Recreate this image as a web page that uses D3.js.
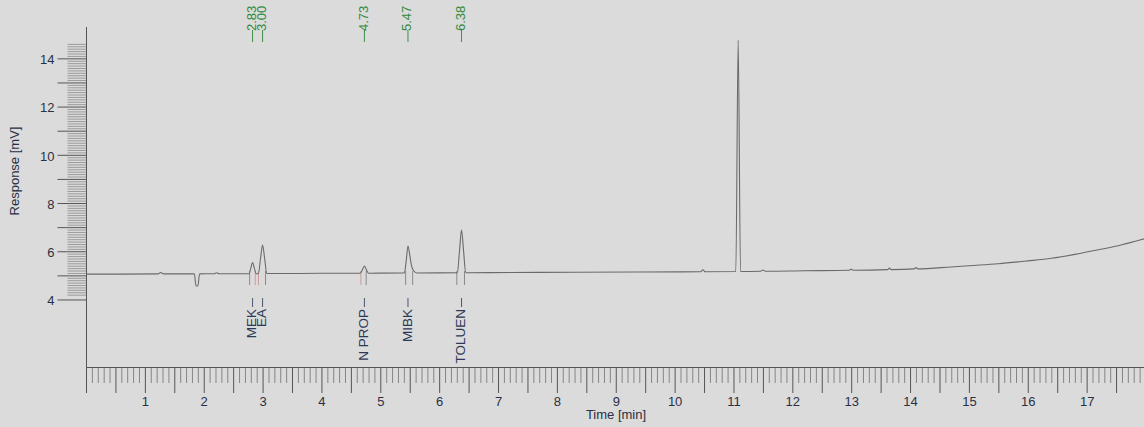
<!DOCTYPE html>
<html>
<head>
<meta charset="utf-8">
<script src="https://cdn.jsdelivr.net/npm/d3@7"></script>
<style>
  html, body { margin: 0; padding: 0; background: #dbdbdb; }
  svg { display: block; }
  text { font-family: "Liberation Sans", Arial, sans-serif; }
</style>
</head>
<body>
<svg id="chart" width="1144" height="427"></svg>
<script>
// Chromatogram trace: retention time (min) and detector response (mV)
const traceTime = [0, 0.6, 1.22, 1.27, 1.32, 1.84, 1.87, 1.90, 1.93, 2.18, 2.22, 2.26,
  2.77, 2.80, 2.83, 2.86, 2.89, 2.93, 2.965, 3.00, 3.035, 3.07, 3.6, 4.2,
  4.66, 4.70, 4.73, 4.76, 4.80, 5.41, 5.44, 5.47, 5.50, 5.53, 5.57, 5.62,
  6.31, 6.345, 6.38, 6.415, 6.45, 7.2, 8.3, 9.4, 10.44, 10.48, 10.52,
  11.04, 11.08, 11.12, 11.46, 11.5, 11.54, 12.2, 12.97, 13.0, 13.03,
  13.62, 13.65, 13.68, 14.07, 14.1, 14.13, 14.7, 15.0, 15.5, 16.0, 16.4,
  16.8, 17.2, 17.6, 18.0];
const traceMv = [5.05, 5.05, 5.06, 5.12, 5.06, 5.06, 4.56, 4.56, 5.06, 5.07, 5.11, 5.07,
  5.07, 5.30, 5.53, 5.30, 5.07, 5.08, 5.70, 6.26, 5.70, 5.08, 5.08, 5.09,
  5.09, 5.25, 5.39, 5.25, 5.09, 5.10, 5.60, 6.22, 5.85, 5.40, 5.18, 5.10,
  5.11, 6.00, 6.88, 6.00, 5.11, 5.12, 5.13, 5.14, 5.15, 5.23, 5.15,
  5.16, 14.76, 5.16, 5.17, 5.22, 5.17, 5.19, 5.21, 5.26, 5.21,
  5.24, 5.30, 5.24, 5.27, 5.32, 5.27, 5.35, 5.40, 5.48, 5.60, 5.71,
  5.87, 6.06, 6.27, 6.53];

// Identified peaks
const peakNames = ["MEK", "EA", "N PROP", "MIBK", "TOLUEN"];
const peakTimes = [2.83, 3.00, 4.73, 5.47, 6.38];

// Integration start / end marks
const markTimes = [2.78, 2.875, 2.93, 3.05, 4.67, 4.76, 5.43, 5.55, 6.30, 6.43];
const markValley = [false, true, true, false, true, false, false, false, false, false];

// Axis ticks
const xLabelTicks = d3.range(1, 18);
const yLabelTicks = [4, 6, 8, 10, 12, 14];

const svg = d3.select("#chart");
const W = 1144, H = 427;

svg.append("rect").attr("width", W).attr("height", H).attr("fill", "#dbdbdb");

const x = d3.scaleLinear().domain([0, 18]).range([86, 1145.5]);
const y = d3.scaleLinear().domain([1.2, 15.3]).range([367, 27]);

const axisColor = "#555555";
const minorColor = "#7c7c7c";
const labelColor = "#2a3044";

function styleAxis(color, width) {
  return g => {
    g.select(".domain").remove();
    g.selectAll("line").attr("stroke", color).attr("stroke-width", width);
    g.selectAll("text").attr("fill", labelColor).attr("font-size", "13px");
  };
}

// ---- X axis (0.1 min minor, 0.5 min mid, 1 min labelled) ----
const xMinor = d3.range(0, 180).filter(i => i % 5 !== 0).map(i => i / 10);
const xHalf = d3.range(0, 36).map(i => i / 2);

svg.append("g").attr("transform", "translate(0,367)")
  .call(d3.axisBottom(x).tickValues(xMinor).tickSize(16).tickFormat(""))
  .call(styleAxis(minorColor, 0.9));
svg.append("g").attr("transform", "translate(0,367)")
  .call(d3.axisBottom(x).tickValues(xHalf).tickSize(26).tickFormat(""))
  .call(styleAxis(axisColor, 1));
svg.append("g").attr("transform", "translate(0,367)")
  .call(d3.axisBottom(x).tickValues(xLabelTicks).tickSize(26).tickPadding(4).tickFormat(d3.format("d")))
  .call(styleAxis(axisColor, 1))
  .call(g => g.selectAll("line").remove());

svg.append("line")
  .attr("x1", x(0)).attr("x2", W).attr("y1", 367.5).attr("y2", 367.5)
  .attr("stroke", axisColor).attr("stroke-width", 1);

svg.append("text")
  .attr("x", 616).attr("y", 419)
  .attr("text-anchor", "middle")
  .attr("font-size", "13px").attr("fill", labelColor)
  .text("Time [min]");

// ---- Y axis ----
const yMinor = d3.range(42, 147).filter(i => i % 10 !== 0).map(i => i / 10);
const yInts = d3.range(4, 15);

svg.append("g").attr("transform", "translate(86.5,0)")
  .call(d3.axisLeft(y).tickValues(yMinor).tickSize(19).tickFormat(""))
  .call(styleAxis("#8a8a8a", 0.8));
svg.append("g").attr("transform", "translate(86.5,0)")
  .call(d3.axisLeft(y).tickValues(yInts).tickSize(29).tickFormat(""))
  .call(styleAxis(axisColor, 1));
svg.append("g").attr("transform", "translate(86.5,0)")
  .call(d3.axisLeft(y).tickValues(yLabelTicks).tickSize(29).tickPadding(3).tickFormat(d3.format("d")))
  .call(styleAxis(axisColor, 1))
  .call(g => g.selectAll("line").remove())
  .call(g => g.selectAll("text").attr("dy", "0.4em"));

svg.append("line")
  .attr("x1", 86.5).attr("x2", 86.5).attr("y1", y(15.3)).attr("y2", 393)
  .attr("stroke", axisColor).attr("stroke-width", 1);

svg.append("text")
  .attr("transform", "translate(19,171) rotate(-90)")
  .attr("text-anchor", "middle")
  .attr("font-size", "13px").attr("fill", labelColor)
  .text("Response [mV]");

// ---- Integration marks ----
svg.append("g").selectAll("line")
  .data(markTimes)
  .join("line")
  .attr("x1", d => x(d)).attr("x2", d => x(d))
  .attr("y1", 271).attr("y2", 285)
  .attr("stroke", (d, i) => markValley[i] ? "#cf9a9a" : "#8a8a8a")
  .attr("stroke-width", 1);

// ---- Trace ----
const trace = traceTime.map((t, i) => ({ t, v: traceMv[i] }));
svg.append("path")
  .datum(trace)
  .attr("fill", "none")
  .attr("stroke", "#6a6a6a")
  .attr("stroke-width", 1.1)
  .attr("d", d3.line().x(d => x(d.t)).y(d => y(d.v)).curve(d3.curveMonotoneX));

// ---- Retention time labels (top) ----
const rtG = svg.append("g");
peakTimes.forEach(t => {
  rtG.append("line")
    .attr("x1", x(t)).attr("x2", x(t)).attr("y1", 30).attr("y2", 42)
    .attr("stroke", "#3e8f4a").attr("stroke-width", 1);
  rtG.append("text")
    .attr("transform", "translate(" + x(t) + ",31) rotate(-90)")
    .attr("text-anchor", "start")
    .attr("dominant-baseline", "middle")
    .attr("font-size", "13px").attr("fill", "#2e8a3c")
    .text(d3.format(".2f")(t));
});

// ---- Peak names (below trace) ----
const nmG = svg.append("g");
peakTimes.forEach((t, i) => {
  nmG.append("line")
    .attr("x1", x(t)).attr("x2", x(t)).attr("y1", 298).attr("y2", 307)
    .attr("stroke", "#4a5570").attr("stroke-width", 1);
  nmG.append("text")
    .attr("transform", "translate(" + x(t) + ",309) rotate(-90)")
    .attr("text-anchor", "end")
    .attr("dominant-baseline", "middle")
    .attr("font-size", "13.5px").attr("fill", "#2b3957")
    .text(peakNames[i]);
});
</script>
</body>
</html>
